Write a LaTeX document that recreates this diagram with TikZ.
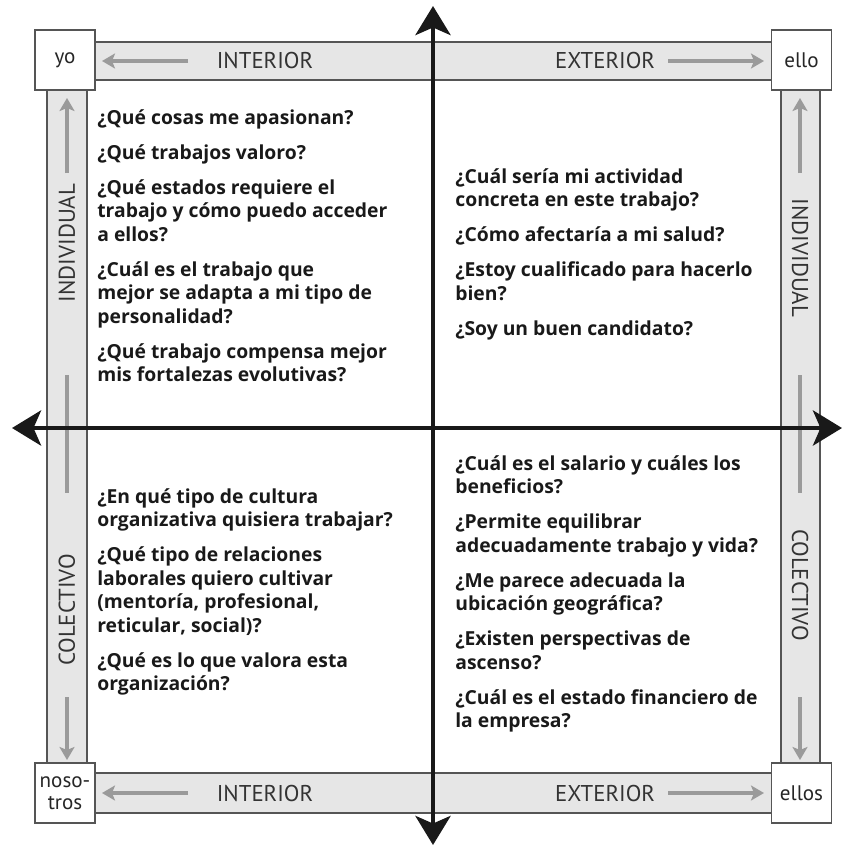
\documentclass[tikz,border=0pt]{standalone}
\usepackage{fontspec}
\setmainfont{PT Sans}
\newfontfamily\questionfont{Open Sans}
\usetikzlibrary{arrows.meta}
\definecolor{bandfill}{HTML}{E6E6E6}
\definecolor{bandedge}{HTML}{555555}
\definecolor{arrowgray}{HTML}{9A9A9A}
\tikzset{
  corner/.style={draw=bandedge, line width=1pt, fill=white, minimum width=1.2cm,
                 minimum height=1.2cm, inner sep=1pt, align=center,
                 font=\fontsize{12}{12.5}\selectfont, text=black!85},
  band/.style={draw=bandedge, line width=1.6pt, fill=bandfill},
  bandlabel/.style={font=\fontsize{13}{13}\selectfont, text=black!80},
  bandarrow/.style={arrowgray, line width=2.2pt,
                    -{Stealth[length=0.26cm,width=0.3cm,inset=0.06cm]}},
  midline/.style={arrowgray, line width=2.2pt},
  axis/.style={black!90, line width=2.8pt,
               {Stealth[length=0.58cm,width=0.7cm,inset=0.15cm]}-{Stealth[length=0.58cm,width=0.7cm,inset=0.15cm]}},
  question/.style={anchor=north west, inner sep=0pt, align=left,
                   font=\questionfont\bfseries\fontsize{11}{13.4}\selectfont, text=black!90},
}

\begin{document}
\begin{tikzpicture}[x=0.02cm,y=-0.02cm]
\useasboundingbox (0,0) rectangle (843,846);
% bands
\draw[band] (65,42) rectangle (801,80);
\draw[band] (65,773) rectangle (801,813);
\draw[band] (47,60) rectangle (87,793);
\draw[band] (781,60) rectangle (820,793);
% arrows in the bands
\draw[bandarrow] (188,61) -- (102,61);
\draw[bandarrow] (668,61) -- (764,61);
\draw[bandarrow] (188,793) -- (102,793);
\draw[bandarrow] (668,793) -- (764,793);
\draw[bandarrow] (67,173) -- (67,98);
\draw[midline] (67,375) -- (67,493);
\draw[bandarrow] (67,697) -- (67,760);
\draw[bandarrow] (800,173) -- (800,98);
\draw[midline] (800,375) -- (800,493);
\draw[bandarrow] (800,697) -- (800,760);
% band labels
\node[bandlabel] (intop) at (265,61) {INTERIOR};
\node[bandlabel] (extop) at (605,61) {EXTERIOR};
\node[bandlabel] (inbot) at (265,793) {INTERIOR};
\node[bandlabel] (exbot) at (605,793) {EXTERIOR};
\node[bandlabel, rotate=90] (indleft) at (67,243) {INDIVIDUAL};
\node[bandlabel, rotate=90] (colleft) at (67,610) {COLECTIVO};
\node[bandlabel, rotate=-90] (indright) at (800,258) {INDIVIDUAL};
\node[bandlabel, rotate=-90] (colright) at (800,585) {COLECTIVO};
% corners
\node[corner] (yo) at (65,60) {yo};
\node[corner] (ello) at (801.5,60) {ello};
\node[corner] (nosotros) at (65,793) {noso-\\tros};
\node[corner] (ellos) at (801.5,793) {ellos};
% axes
\draw[axis] (433,845) -- (433,6);
\draw[axis] (12,428) -- (842,428);
% questions
\node[question] (qa) at (97,109)
  {¿Qué cosas me apasionan?\\[6.5pt]
   ¿Qué trabajos valoro?\\[6.5pt]
   ¿Qué estados requiere el\\
   trabajo y cómo puedo acceder\\
   a ellos?\\[6.5pt]
   ¿Cuál es el trabajo que\\
   mejor se adapta a mi tipo de\\
   personalidad?\\[6.5pt]
   ¿Qué trabajo compensa mejor\\
   mis fortalezas evolutivas?};
\node[question] (qb) at (455,168)
  {¿Cuál sería mi actividad\\
   concreta en este trabajo?\\[6.5pt]
   ¿Cómo afectaría a mi salud?\\[6.5pt]
   ¿Estoy cualificado para hacerlo\\
   bien?\\[6.5pt]
   ¿Soy un buen candidato?};
\node[question] (qc) at (97,488)
  {¿En qué tipo de cultura\\
   organizativa quisiera trabajar?\\[6.5pt]
   ¿Qué tipo de relaciones\\
   laborales quiero cultivar\\
   (mentoría, profesional,\\
   reticular, social)?\\[6.5pt]
   ¿Qué es lo que valora esta\\
   organización?};
\node[question] (qd) at (455,455)
  {¿Cuál es el salario y cuáles los\\
   beneficios?\\[6.5pt]
   ¿Permite equilibrar\\
   adecuadamente trabajo y vida?\\[6.5pt]
   ¿Me parece adecuada la\\
   ubicación geográfica?\\[6.5pt]
   ¿Existen perspectivas de\\
   ascenso?\\[6.5pt]
   ¿Cuál es el estado financiero de\\
   la empresa?};
\end{tikzpicture}
\end{document}
